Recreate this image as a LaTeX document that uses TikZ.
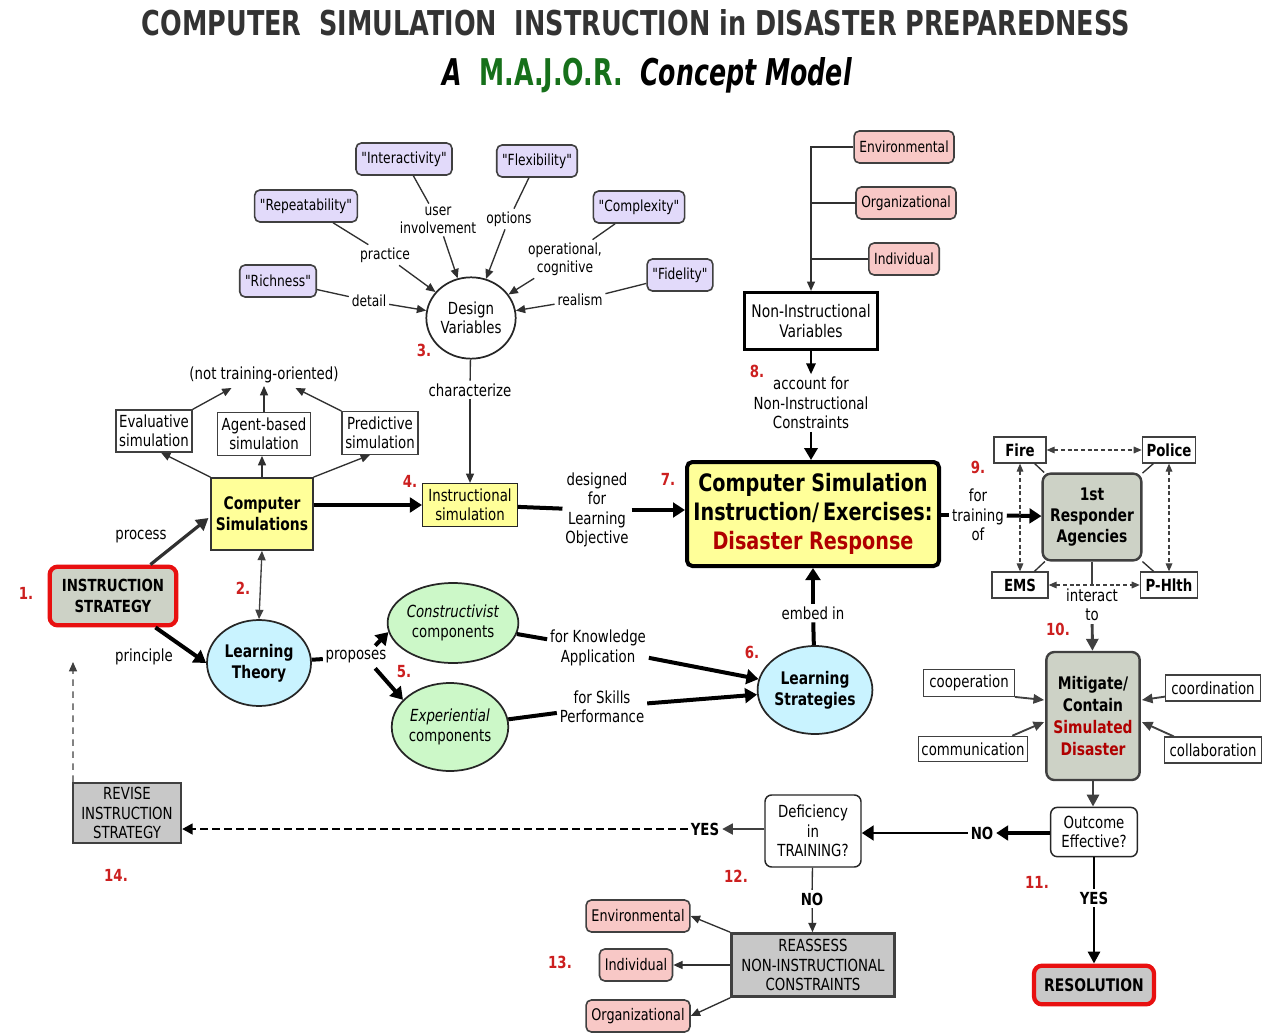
\documentclass[tikz,border=0pt]{standalone}
\usepackage{graphicx}
\usepackage{fontspec}
\setmainfont{DejaVu Sans}[FakeStretch=0.8]
\newfontfamily\titlefont{DejaVu Sans}
\newfontfamily\qf{DejaVu Sans}[FakeStretch=0.8]
\newcommand\sq{{\qf"}}
\usetikzlibrary{arrows.meta,shapes.geometric,calc}
\definecolor{numred}{HTML}{CC1F1F}
\definecolor{dred}{HTML}{B00000}
\definecolor{tgray}{HTML}{333333}
\definecolor{tgreen}{HTML}{16701A}
\definecolor{cPurp}{HTML}{E2DAFA}
\definecolor{cPink}{HTML}{F8C8C6}
\definecolor{cYel}{HTML}{FFFF99}
\definecolor{cCyan}{HTML}{C9F3FF}
\definecolor{cGreen}{HTML}{CCF8C8}
\definecolor{cGray}{HTML}{CDD2C6}
\definecolor{cGray2}{HTML}{C8C8C8}
\definecolor{bline}{HTML}{404040}
\definecolor{lc}{HTML}{303030}
\definecolor{bred}{HTML}{E81010}
\tikzset{
  tbase/.style={font=\fontsize{12.5}{14.6}\selectfont, align=center, inner sep=1pt, text=black},
  lbl/.style={tbase, inner sep=2pt},
  slbl/.style={lbl, font=\fontsize{11.5}{13.5}\selectfont},
  blbl/.style={lbl, font=\bfseries\fontsize{12.5}{14.6}\selectfont},
  rednum/.style={font=\bfseries\fontsize{12.5}{14}\selectfont, text=numred, inner sep=0pt},
  purpbox/.style={tbase, font=\fontsize{11.5}{14}\selectfont, draw=bline, line width=1.2pt, fill=cPurp, rounded corners=4pt, inner xsep=4pt, minimum height=24pt},
  pinkbox/.style={tbase, font=\fontsize{11.5}{14}\selectfont, draw=bline, line width=1.2pt, fill=cPink, rounded corners=4pt, inner xsep=4pt, minimum height=24pt},
  wbox/.style={tbase, draw=bline, line width=0.9pt, fill=white, inner sep=2pt},
  ell/.style={ellipse, tbase, draw=black!85, line width=1.3pt, inner sep=0pt},
  conn/.style={draw=lc, line width=1pt},
  carr/.style={conn, -{Triangle[length=7pt,width=6pt]}},
  garr/.style={draw=bline, line width=2.2pt, -{Triangle[length=9pt,width=9pt]}},
  tk/.style={draw=black, line width=3pt},
  tkarr/.style={tk, -{Triangle[length=9pt,width=11pt]}},
  dash2/.style={draw=bline, line width=0.8pt, dash pattern=on 3pt off 2pt, {Triangle[length=6pt,width=5pt]}-{Triangle[length=6pt,width=5pt]}},
}
\begin{document}
\begin{tikzpicture}[x=0.75pt,y=-0.75pt]
\useasboundingbox[fill=white] (0,0) rectangle (1270,1034);

% ---------- title ----------
\node[inner sep=0pt, text=tgray] (t1) at (636,23) {\resizebox{741pt}{19.5pt}{\titlefont\bfseries COMPUTER\ \ SIMULATION\ \ INSTRUCTION in DISASTER PREPAREDNESS}};
\node[inner sep=0pt] (t2) at (647,75) {\resizebox{307pt}{21pt}{\titlefont\bfseries\itshape A\ \ \textcolor{tgreen}{\upshape M.A.J.O.R.}\ \ Concept Model}};

% ---------- design variables ----------
\node[ell, fill=white, minimum width=67pt, minimum height=61pt] (dv) at (471,318) {Design\\Variables};
\node[purpbox] (pInt) at (404,159) {\sq Interactivity\sq};
\node[purpbox] (pFlex) at (537,161) {\sq Flexibility\sq};
\node[purpbox] (pRep) at (306,206) {\sq Repeatability\sq};
\node[purpbox] (pCom) at (639,207) {\sq Complexity\sq};
\node[purpbox] (pRich) at (278,281) {\sq Richness\sq};
\node[purpbox] (pFid) at (680,275) {\sq Fidelity\sq};
\node[slbl] (lUser) at (438,220) {user\\involvement};
\node[slbl] (lOpt) at (509,219) {options};
\node[slbl] (lPrac) at (385,255) {practice};
\node[slbl] (lOper) at (565,259) {operational,\\cognitive};
\node[slbl] (lDet) at (369,301) {detail};
\node[slbl] (lReal) at (580,300) {realism};
\node[rednum] (n3) at (424,350) {3.};
\foreach \b/\l in {pInt/lUser, pFlex/lOpt, pRep/lPrac, pCom/lOper, pRich/lDet, pFid/lReal}{
  \draw[conn] (\b) -- (\l);
  \draw[carr] (\l) -- (dv);
}

% ---------- simulations ----------
\node[lbl] (nto) at (264,375) {(not training-oriented)};
\node[wbox, minimum width=57pt, minimum height=31.5pt] (eval) at (154,431) {Evaluative\\simulation};
\node[wbox, minimum width=70pt, minimum height=32pt] (agent) at (264,434) {Agent-based\\simulation};
\node[wbox, minimum width=57pt, minimum height=32pt] (pred) at (380,433) {Predictive\\simulation};
\node[tbase, font=\bfseries\fontsize{13}{16}\selectfont, draw=black!80, line width=1.3pt, fill=cYel, minimum width=76pt, minimum height=54pt] (cs) at (262,514) {Computer\\Simulations};
\draw[carr] (cs.north west) -- ($(eval.south)+(7,0)$);
\draw[carr] (cs.north) -- (cs.north |- agent.south);
\draw[carr] (cs.north east) -- ($(pred.south)+(-10,0)$);
\draw[carr] (eval.north east) -- ($(nto.south west)+(45,2)$);
\draw[carr] (agent.north) -- (agent.north |- nto.south);
\draw[carr] (pred.north west) -- ($(nto.south east)+(-46,2)$);

% ---------- instruction strategy ----------
\node[tbase, font=\bfseries\fontsize{12.5}{15.5}\selectfont, draw=bred, line width=3.2pt, fill=cGray, rounded corners=6pt, minimum width=95pt, minimum height=44pt] (is) at (113,596) {INSTRUCTION\\STRATEGY};
\node[rednum] (n1) at (26,593) {1.};
\node[lbl] (lProc) at (141,537) {process};
\node[lbl] (lPrin) at (144,657) {principle};
\node[ell, font=\bfseries\fontsize{13}{16}\selectfont, fill=cCyan, minimum width=78pt, minimum height=64.5pt] (lt) at (259,663) {Learning\\Theory};
\draw[draw=lc, line width=2.4pt, -{Triangle[length=9pt,width=10pt]}] ($(is.north east)+(-28,0)$) -- ($(cs.west)+(-2,4)$);
\draw[tkarr] ($(is.south east)+(-23,0)$) -- (lt.west);
\node[rednum] (n2) at (243,588) {2.};
\draw[draw=bline, line width=1pt, {Triangle[length=7pt,width=6pt]}-{Triangle[length=7pt,width=6pt]}] (cs.south) -- (lt.north);

% ---------- components ----------
\node[lbl] (lProp) at (356,657) {proposes};
\node[ell, fill=cGreen, minimum width=85.5pt, minimum height=60pt] (con) at (453,623) {\textit{Constructivist}\\components};
\node[ell, fill=cGreen, minimum width=86pt, minimum height=66pt] (exp) at (450,727) {\textit{Experiential}\\components};
\node[rednum] (n5) at (404,672) {5.};
\draw[tk] (lt) -- (lProp);
\draw[tkarr] ($(lProp.north east)+(-14,-2)$) -- (con.188);
\draw[tkarr] ($(lProp.south east)+(-14,2)$) -- (exp.150);
\node[lbl] (lKA) at (598,648) {for Knowledge\\Application};
\node[lbl] (lSP) at (602,707) {for Skills\\Performance};
\node[ell, font=\bfseries\fontsize{13}{16}\selectfont, fill=cCyan, minimum width=78pt, minimum height=66pt] (ls) at (815,690) {Learning\\Strategies};
\node[rednum] (n6) at (752,652) {6.};
\draw[tk] (con) -- (lKA);
\draw[tkarr] (lKA) -- (ls);
\draw[tk] (exp) -- (lSP);
\draw[tkarr] (lSP) -- (ls);

% ---------- instructional simulation / CSI ----------
\node[lbl] (lChar) at (470,390) {characterize};
\node[tbase, draw=black!85, line width=1.1pt, fill=cYel, minimum width=71pt, minimum height=32pt] (instr) at (470,505) {Instructional\\simulation};
\node[rednum] (n4) at (410,481) {4.};
\draw[conn] (dv) -- (lChar);
\draw[carr] (lChar) -- (instr);
\draw[tkarr] (cs.east |- instr) -- (instr.west);
\node[tbase, font=\bfseries\fontsize{18}{21.8}\selectfont, draw=black, line width=3pt, fill=cYel, rounded corners=4pt, minimum width=189pt, minimum height=78pt] (csi) at (813,514) {Computer Simulation\\Instruction/\,Exercises:\\\textcolor{dred}{Disaster Response}};
\node[lbl] (lDes) at (597,510) {designed\\for\\Learning\\Objective};
\node[rednum] (n7) at (668,479) {7.};
\draw[tk] (instr) -- (lDes);
\draw[tkarr] (lDes) -- (lDes -| csi.west);
\node[lbl] (lEmb) at (813,613) {embed in};
\draw[tk] (ls) -- (lEmb);
\draw[tkarr] (lEmb) -- (csi);

% ---------- non-instructional variables ----------
\node[tbase, font=\fontsize{13}{15.5}\selectfont, draw=black, line width=2.2pt, fill=white, minimum width=100pt, minimum height=43pt] (niv) at (811,321) {Non-Instructional\\Variables};
\node[pinkbox] (env1) at (904,147) {Environmental};
\node[pinkbox] (org1) at (906,203) {Organizational};
\node[pinkbox] (ind1) at (904,259) {Individual};
\draw[carr] (env1.west) -| (niv.north);
\draw[conn] (org1.west) -- (org1.west -| niv.north);
\draw[conn] (ind1.west) -- (ind1.west -| niv.north);
\node[rednum] (n8) at (757,371) {8.};
\node[lbl] (lAcc) at (811,403) {account for\\Non-Instructional\\Constraints};
\draw[draw=black, line width=1.2pt, -{Triangle[length=8pt,width=7pt]}] (niv) -- (lAcc);
\draw[draw=black, line width=2pt, -{Triangle[length=9pt,width=10pt]}] (lAcc.south) -- (lAcc.south |- csi.north);

% ---------- responders ----------
\node[rednum] (n9) at (978,467) {9.};
\node[lbl] (lTr) at (978,515) {for\\training\\of};
\node[tbase, font=\bfseries\fontsize{13}{16}\selectfont, draw=bline, line width=1.8pt, fill=cGray, rounded corners=6pt, minimum width=74pt, minimum height=65pt] (fr) at (1092,517) {1st\\Responder\\Agencies};
\draw[tk] (csi.east |- lTr) -- (lTr);
\draw[tkarr] (lTr) -- (fr);
\node[wbox, font=\bfseries\fontsize{12.5}{14}\selectfont, minimum width=39pt, minimum height=19.5pt] (fire) at (1020,450) {Fire};
\node[wbox, font=\bfseries\fontsize{12.5}{14}\selectfont, minimum width=40pt, minimum height=19.5pt] (police) at (1169,450) {Police};
\node[wbox, font=\bfseries\fontsize{12.5}{14}\selectfont, minimum width=42pt, minimum height=19.5pt] (ems) at (1020,585) {EMS};
\node[wbox, font=\bfseries\fontsize{12.5}{14}\selectfont, minimum width=43pt, minimum height=19.5pt] (ph) at (1169,585) {P-Hlth};
\foreach \a in {fire,police,ems,ph}{ \draw[conn] (\a) -- (fr); }
\draw[dash2] (fire) -- (police);
\draw[dash2] (ems) -- (ph);
\draw[dash2] (fire) -- (ems);
\draw[dash2] (police) -- (ph);
\node[lbl] (lInt) at (1092,605) {interact\\to};
\node[rednum] (n10) at (1058,629) {10.};
\node[tbase, font=\bfseries\fontsize{13}{16.5}\selectfont, draw=bline, line width=1.8pt, fill=cGray, rounded corners=6pt, minimum width=70pt, minimum height=96pt] (mit) at (1093,716) {Mitigate/\\Contain\\\textcolor{dred}{Simulated}\\\textcolor{dred}{Disaster}};
\draw[draw=bline, line width=2.2pt] (fr) -- (lInt);
\draw[garr] (lInt) -- (mit);
\node[wbox, minimum width=68pt, minimum height=20pt] (coop) at (969,683) {cooperation};
\node[wbox, minimum width=82pt, minimum height=19pt] (comm) at (973,749) {communication};
\node[wbox, minimum width=71pt, minimum height=19.5pt] (coord) at (1213,688) {coordination};
\node[wbox, minimum width=73pt, minimum height=19.5pt] (coll) at (1213,750) {collaboration};
\draw[draw=bline, line width=1.4pt, -{Triangle[length=8pt,width=7pt]}] (coop.south east) -- ($(mit.west)+(-1,-16)$);
\draw[draw=bline, line width=1.4pt, -{Triangle[length=8pt,width=7pt]}] ($(comm.north east)+(-16,0)$) -- ($(mit.west)+(-1,6)$);
\draw[draw=bline, line width=1.4pt, -{Triangle[length=8pt,width=7pt]}] ($(coord.south west)+(0,-5)$) -- ($(mit.east)+(1,-16)$);
\draw[draw=bline, line width=1.4pt, -{Triangle[length=8pt,width=7pt]}] ($(coll.north west)+(10,0)$) -- ($(mit.east)+(1,6)$);

% ---------- outcome ----------
\node[tbase, draw=black!85, line width=1.1pt, fill=white, rounded corners=5pt, minimum width=65pt, minimum height=37pt] (out) at (1094,832) {Outcome\\Effective?};
\draw[garr] (mit.south) -- (mit.south |- out.north);
\node[rednum] (n11) at (1037,882) {11.};
\node[blbl] (lYes1) at (1094,898) {YES};
\node[tbase, font=\bfseries\fontsize{13}{16}\selectfont, draw=bred, line width=3.2pt, fill=cGray2, rounded corners=6pt, minimum width=90pt, minimum height=29pt] (res) at (1094,985) {RESOLUTION};
\draw[tk, line width=2.2pt] (out) -- (lYes1);
\draw[draw=black, line width=2.2pt, -{Triangle[length=9pt,width=9pt]}] (lYes1) -- (res);
\node[blbl] (lNo1) at (982,833) {NO};
\node[tbase, draw=black!85, line width=1.1pt, fill=white, rounded corners=5pt, minimum width=72pt, minimum height=54pt] (def) at (813,831) {Deficiency\\in\\TRAINING?};
\draw[tkarr] (out.west |- lNo1) -- (lNo1);
\draw[draw=black, line width=2.2pt, -{Triangle[length=9pt,width=11pt]}] (lNo1) -- (lNo1 -| def.east);
\node[blbl] (lYes2) at (705,829) {YES};
\draw[draw=bline, line width=2pt, -{Triangle[length=8pt,width=8pt]}] (def.west |- lYes2) -- (lYes2);
\node[tbase, draw=bline, line width=1.6pt, fill=cGray2, minimum width=81pt, minimum height=45pt] (rev) at (127,813) {REVISE\\INSTRUCTION\\STRATEGY};
\draw[draw=black, line width=2pt, dash pattern=on 6pt off 3pt, -{Triangle[length=8pt,width=8pt]}] (lYes2) -- (lYes2 -| rev.east);
\coordinate (upend) at (73,662);
\draw[draw=bline, line width=0.9pt, dash pattern=on 5pt off 4pt, -{Triangle[length=7pt,width=6pt]}] ($(rev.north west)+(1,0)$) -- (upend);
\node[rednum] (n14) at (116,875) {14.};
\node[rednum] (n12) at (736,876) {12.};
\node[blbl] (lNo2) at (812,899) {NO};
\node[tbase, draw=bline, line width=2.2pt, fill=cGray2, minimum width=122pt, minimum height=47pt] (rea) at (813,965) {REASSESS\\NON-INSTRUCTIONAL\\CONSTRAINTS};
\draw[conn] (def) -- (lNo2);
\draw[carr] (lNo2) -- (rea);
\node[pinkbox, font=\fontsize{12}{14}\selectfont] (env2) at (638,916) {Environmental};
\node[pinkbox, font=\fontsize{12}{14}\selectfont] (ind2) at (636,965) {Individual};
\node[pinkbox, font=\fontsize{12}{14}\selectfont] (org2) at (638,1016) {Organizational};
\draw[carr] (rea.north west) -- (env2.east);
\draw[carr] (rea.west) -- (ind2.east);
\draw[carr] (rea.south west) -- (org2.east);
\node[rednum] (n13) at (560,962) {13.};
\end{tikzpicture}
\end{document}
